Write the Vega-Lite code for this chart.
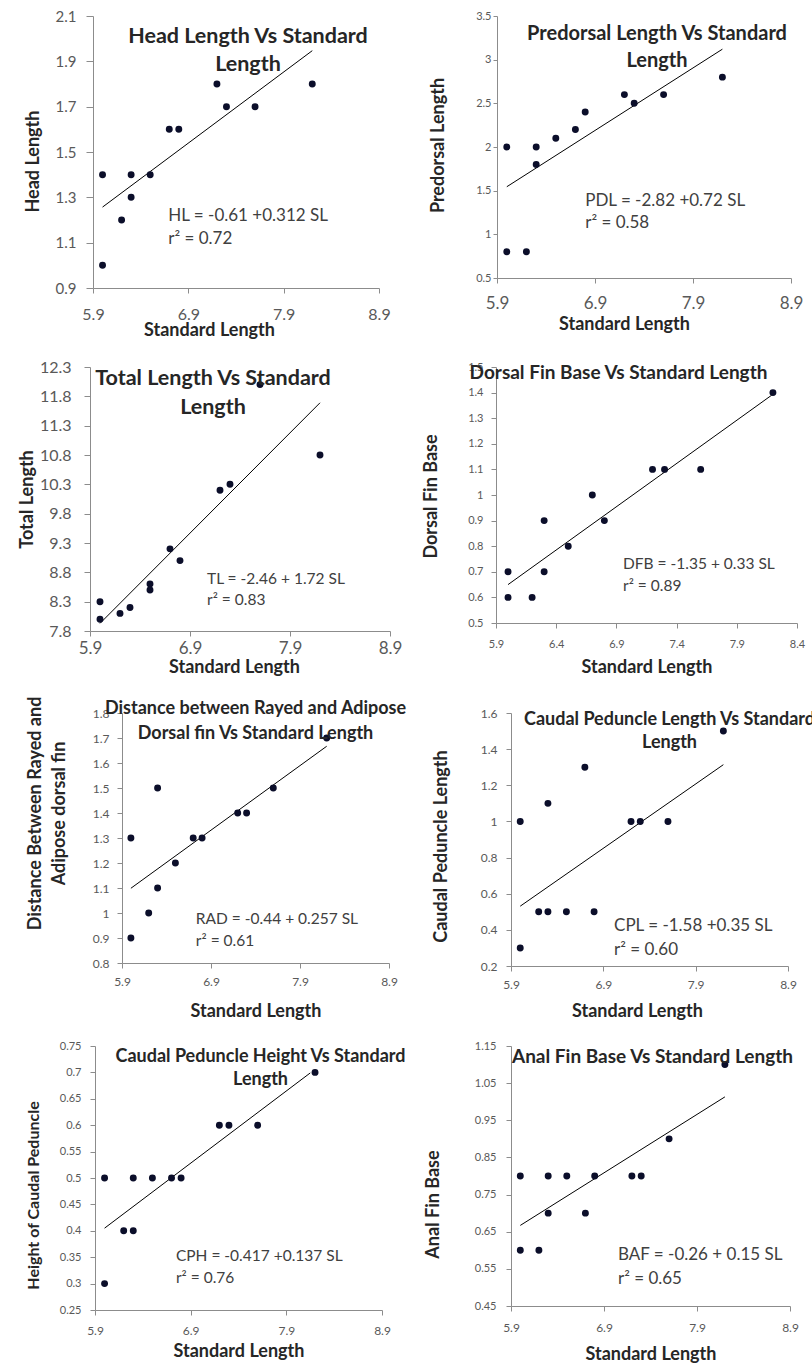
{
  "$schema": "https://vega.github.io/schema/vega-lite/v6.json",
  "padding": {"left": 9, "top": 9, "right": 0, "bottom": 0},
  "autosize": {"type": "pad"},
  "background": "white",
  "spacing": 20,
  "columns": 1,
  "datasets": {
    "hl": [{"SL":6.0,"HL":1.4},{"SL":6.0,"HL":1.0},{"SL":6.2,"HL":1.2},{"SL":6.3,"HL":1.4},{"SL":6.3,"HL":1.3},{"SL":6.5,"HL":1.4},{"SL":6.7,"HL":1.6},{"SL":6.8,"HL":1.6},{"SL":7.2,"HL":1.8},{"SL":7.3,"HL":1.7},{"SL":7.6,"HL":1.7},{"SL":8.2,"HL":1.8}],
    "hl_fit": [{"SL":6.0,"HL":1.257},{"SL":8.2,"HL":1.947}],
    "pdl": [{"SL":6.0,"PDL":2.0},{"SL":6.0,"PDL":0.8},{"SL":6.2,"PDL":0.8},{"SL":6.3,"PDL":2.0},{"SL":6.3,"PDL":1.8},{"SL":6.5,"PDL":2.1},{"SL":6.7,"PDL":2.2},{"SL":6.8,"PDL":2.4},{"SL":7.2,"PDL":2.6},{"SL":7.3,"PDL":2.5},{"SL":7.6,"PDL":2.6},{"SL":8.2,"PDL":2.8}],
    "pdl_fit": [{"SL":6.0,"PDL":1.545},{"SL":8.2,"PDL":3.12}],
    "tl": [{"SL":6.0,"TL":8.3},{"SL":6.0,"TL":8.0},{"SL":6.2,"TL":8.1},{"SL":6.3,"TL":8.2},{"SL":6.5,"TL":8.6},{"SL":6.5,"TL":8.5},{"SL":6.7,"TL":9.2},{"SL":6.8,"TL":9.0},{"SL":7.2,"TL":10.2},{"SL":7.3,"TL":10.3},{"SL":7.6,"TL":12.0},{"SL":8.2,"TL":10.8}],
    "tl_fit": [{"SL":6.0,"TL":7.93},{"SL":8.2,"TL":11.69}],
    "dfb": [{"SL":6.0,"DFB":0.7},{"SL":6.0,"DFB":0.6},{"SL":6.2,"DFB":0.6},{"SL":6.3,"DFB":0.9},{"SL":6.3,"DFB":0.7},{"SL":6.5,"DFB":0.8},{"SL":6.7,"DFB":1.0},{"SL":6.8,"DFB":0.9},{"SL":7.2,"DFB":1.1},{"SL":7.3,"DFB":1.1},{"SL":7.6,"DFB":1.1},{"SL":8.2,"DFB":1.4}],
    "dfb_fit": [{"SL":6.0,"DFB":0.65},{"SL":8.19,"DFB":1.39}],
    "rad": [{"SL":6.0,"RAD":1.3},{"SL":6.0,"RAD":0.9},{"SL":6.2,"RAD":1.0},{"SL":6.3,"RAD":1.5},{"SL":6.3,"RAD":1.1},{"SL":6.5,"RAD":1.2},{"SL":6.7,"RAD":1.3},{"SL":6.8,"RAD":1.3},{"SL":7.2,"RAD":1.4},{"SL":7.3,"RAD":1.4},{"SL":7.6,"RAD":1.5},{"SL":8.2,"RAD":1.7}],
    "rad_fit": [{"SL":6.0,"RAD":1.099},{"SL":8.2,"RAD":1.667}],
    "cpl": [{"SL":6.0,"CPL":1.0},{"SL":6.0,"CPL":0.3},{"SL":6.2,"CPL":0.5},{"SL":6.3,"CPL":0.5},{"SL":6.3,"CPL":1.1},{"SL":6.5,"CPL":0.5},{"SL":6.7,"CPL":1.3},{"SL":6.8,"CPL":0.5},{"SL":7.2,"CPL":1.0},{"SL":7.3,"CPL":1.0},{"SL":7.6,"CPL":1.0},{"SL":8.2,"CPL":1.5}],
    "cpl_fit": [{"SL":6.0,"CPL":0.531},{"SL":8.2,"CPL":1.314}],
    "cph": [{"SL":6.0,"CPH":0.5},{"SL":6.0,"CPH":0.3},{"SL":6.2,"CPH":0.4},{"SL":6.3,"CPH":0.4},{"SL":6.3,"CPH":0.5},{"SL":6.5,"CPH":0.5},{"SL":6.7,"CPH":0.5},{"SL":6.8,"CPH":0.5},{"SL":7.2,"CPH":0.6},{"SL":7.3,"CPH":0.6},{"SL":7.6,"CPH":0.6},{"SL":8.2,"CPH":0.7}],
    "cph_fit": [{"SL":6.0,"CPH":0.405},{"SL":8.15,"CPH":0.699}],
    "baf": [{"SL":6.0,"BAF":0.8},{"SL":6.0,"BAF":0.6},{"SL":6.2,"BAF":0.6},{"SL":6.3,"BAF":0.8},{"SL":6.3,"BAF":0.7},{"SL":6.5,"BAF":0.8},{"SL":6.7,"BAF":0.7},{"SL":6.8,"BAF":0.8},{"SL":7.2,"BAF":0.8},{"SL":7.3,"BAF":0.8},{"SL":7.6,"BAF":0.9},{"SL":8.2,"BAF":1.1}],
    "baf_fit": [{"SL":6.0,"BAF":0.667},{"SL":8.2,"BAF":1.013}]
  },
  "concat": [
    {
      "bounds": "flush",
      "spacing": 83,
      "hconcat": [
        {"width": 1, "height": 1, "data": {"values": []}, "mark": {"type": "point", "opacity": 0}},
        {
          "bounds": "flush",
          "spacing": 118,
          "hconcat": [
            {
              "width": 286, "height": 272,
              "title": {"text": ["Head Length Vs Standard", "Length"], "fontSize": 21.5, "lineHeight": 28, "offset": -66, "dx": 12},
              "layer": [
                {"data": {"name": "hl_fit"}, "mark": "line",
                 "encoding": {
                   "x": {"field": "SL", "type": "quantitative", "scale": {"domain": [5.9, 8.9], "zero": false, "nice": false},
                         "axis": {"title": "Standard Length", "values": [5.9, 6.9, 7.9, 8.9], "tickCount": 50, "format": ".1f", "labelOverlap": false, "labelFontSize": 16, "labelPadding": 13, "titleX": 116, "titleY": 33}},
                   "y": {"field": "HL", "type": "quantitative", "scale": {"domain": [0.9, 2.1], "zero": false, "nice": false},
                         "axis": {"title": "Head Length", "values": [0.9, 1.1, 1.3, 1.5, 1.7, 1.9, 2.1], "tickCount": 50, "format": ".1f", "labelOverlap": false, "labelFontSize": 15, "tickSize": 7, "labelPadding": 10, "titleX": -51, "titleY": 145}}
                 }},
                {"data": {"name": "hl"}, "mark": "point",
                 "encoding": {"x": {"field": "SL", "type": "quantitative"}, "y": {"field": "HL", "type": "quantitative"}}},
                {"data": {"values": [{}]}, "mark": {"type": "text", "text": ["HL = -0.61 +0.312 SL", "r² = 0.72"], "fontSize": 17, "lineHeight": 23},
                 "encoding": {"x": {"datum": 6.69, "type": "quantitative"}, "y": {"datum": 1.216, "type": "quantitative"}}}
              ]
            },
            {
              "width": 294, "height": 262,
              "title": {"text": ["Predorsal Length Vs Standard", "Length"], "fontSize": 20, "lineHeight": 27, "offset": -61, "dx": 13},
              "layer": [
                {"data": {"name": "pdl_fit"}, "mark": "line",
                 "encoding": {
                   "x": {"field": "SL", "type": "quantitative", "scale": {"domain": [5.9, 8.9], "zero": false, "nice": false},
                         "axis": {"title": "Standard Length", "values": [5.9, 6.9, 7.9, 8.9], "tickCount": 50, "format": ".1f", "labelOverlap": false, "labelFontSize": 17, "labelPadding": 12.5, "titleX": 127, "titleY": 37}},
                   "y": {"field": "PDL", "type": "quantitative", "scale": {"domain": [0.5, 3.5], "zero": false, "nice": false},
                         "axis": {"title": "Predorsal Length", "values": [0.5, 1, 1.5, 2, 2.5, 3, 3.5], "tickCount": 50, "format": ".1~f", "labelOverlap": false, "labelFontSize": 11, "tickSize": 4, "labelPadding": 2, "titleX": -50, "titleY": 129}}
                 }},
                {"data": {"name": "pdl"}, "mark": "point",
                 "encoding": {"x": {"field": "SL", "type": "quantitative"}, "y": {"field": "PDL", "type": "quantitative"}}},
                {"data": {"values": [{}]}, "mark": {"type": "text", "text": ["PDL = -2.82 +0.72 SL", "r² = 0.58"], "fontSize": 17, "lineHeight": 22},
                 "encoding": {"x": {"datum": 6.8, "type": "quantitative"}, "y": {"datum": 1.38, "type": "quantitative"}}}
              ]
            }
          ]
        }
      ]
    },
    {
      "bounds": "flush",
      "spacing": 80,
      "hconcat": [
        {"width": 1, "height": 1, "data": {"values": []}, "mark": {"type": "point", "opacity": 0}},
        {
          "bounds": "flush",
          "spacing": 106,
          "hconcat": [
            {
              "width": 300, "height": 264,
              "title": {"text": ["Total Length Vs Standard", "Length"], "fontSize": 21.5, "lineHeight": 29, "offset": -59, "dx": -27},
              "layer": [
                {"data": {"name": "tl_fit"}, "mark": "line",
                 "encoding": {
                   "x": {"field": "SL", "type": "quantitative", "scale": {"domain": [5.9, 8.9], "zero": false, "nice": false},
                         "axis": {"title": "Standard Length", "values": [5.9, 6.9, 7.9, 8.9], "tickCount": 50, "format": ".1f", "labelOverlap": false, "labelFontSize": 17, "labelPadding": 4.5, "titleX": 144, "titleY": 27}},
                   "y": {"field": "TL", "type": "quantitative", "scale": {"domain": [7.8, 12.3], "zero": false, "nice": false},
                         "axis": {"title": "Total Length", "values": [7.8, 8.3, 8.8, 9.3, 9.8, 10.3, 10.8, 11.3, 11.8, 12.3], "tickCount": 50, "format": ".1f", "labelOverlap": false, "labelFontSize": 16, "tickSize": 6, "labelPadding": 13, "titleX": -54, "titleY": 132}}
                 }},
                {"data": {"name": "tl"}, "mark": "point",
                 "encoding": {"x": {"field": "SL", "type": "quantitative"}, "y": {"field": "TL", "type": "quantitative"}}},
                {"data": {"values": [{}]}, "mark": {"type": "text", "text": ["TL = -2.46 + 1.72 SL", "r² = 0.83"], "fontSize": 15.5, "lineHeight": 21},
                 "encoding": {"x": {"datum": 7.07, "type": "quantitative"}, "y": {"datum": 8.68, "type": "quantitative"}}}
              ]
            },
            {
              "width": 301, "height": 256,
              "title": {"text": "Dorsal Fin Base Vs Standard Length", "fontSize": 19, "offset": -22, "dx": -28},
              "layer": [
                {"data": {"name": "dfb_fit"}, "mark": "line",
                 "encoding": {
                   "x": {"field": "SL", "type": "quantitative", "scale": {"domain": [5.9, 8.4], "zero": false, "nice": false},
                         "axis": {"title": "Standard Length", "values": [5.9, 6.4, 6.9, 7.4, 7.9, 8.4], "tickCount": 50, "format": ".1f", "labelOverlap": false, "labelFontSize": 11, "labelPadding": 10.5, "titleY": 35}},
                   "y": {"field": "DFB", "type": "quantitative", "scale": {"domain": [0.5, 1.5], "zero": false, "nice": false},
                         "axis": {"title": "Dorsal Fin Base", "values": [0.5, 0.6, 0.7, 0.8, 0.9, 1, 1.1, 1.2, 1.3, 1.4, 1.5], "tickCount": 50, "format": ".1~f", "labelOverlap": false, "labelFontSize": 11, "tickSize": 5, "labelPadding": 8, "titleX": -56, "titleY": 129}}
                 }},
                {"data": {"name": "dfb"}, "mark": "point",
                 "encoding": {"x": {"field": "SL", "type": "quantitative"}, "y": {"field": "DFB", "type": "quantitative"}}},
                {"data": {"values": [{}]}, "mark": {"type": "text", "text": ["DFB = -1.35 + 0.33 SL", "r² = 0.89"], "fontSize": 15.5, "lineHeight": 22},
                 "encoding": {"x": {"datum": 6.955, "type": "quantitative"}, "y": {"datum": 0.732, "type": "quantitative"}}}
              ]
            }
          ]
        }
      ]
    },
    {
      "bounds": "flush",
      "spacing": 112,
      "hconcat": [
        {"width": 1, "height": 1, "data": {"values": []}, "mark": {"type": "point", "opacity": 0}},
        {
          "bounds": "flush",
          "spacing": 122,
          "hconcat": [
            {
              "width": 267, "height": 250,
              "title": {"text": ["Distance between Rayed and Adipose", "Dorsal fin Vs Standard Length"], "fontSize": 18, "lineHeight": 25, "offset": -47},
              "layer": [
                {"data": {"name": "rad_fit"}, "mark": "line",
                 "encoding": {
                   "x": {"field": "SL", "type": "quantitative", "scale": {"domain": [5.9, 8.9], "zero": false, "nice": false},
                         "axis": {"title": "Standard Length", "values": [5.9, 6.9, 7.9, 8.9], "tickCount": 50, "format": ".1f", "labelOverlap": false, "labelFontSize": 12, "labelPadding": 8, "titleY": 39}},
                   "y": {"field": "RAD", "type": "quantitative", "scale": {"domain": [0.8, 1.8], "zero": false, "nice": false},
                         "axis": {"title": ["Distance Between Rayed and", "Adipose dorsal fin"], "titleLineHeight": 24, "values": [0.8, 0.9, 1, 1.1, 1.2, 1.3, 1.4, 1.5, 1.6, 1.7, 1.8], "tickCount": 50, "format": ".1~f", "labelOverlap": false, "labelFontSize": 12, "tickSize": 5, "labelPadding": 8, "titleX": -78, "titleY": 100}}
                 }},
                {"data": {"name": "rad"}, "mark": "point",
                 "encoding": {"x": {"field": "SL", "type": "quantitative"}, "y": {"field": "RAD", "type": "quantitative"}}},
                {"data": {"values": [{}]}, "mark": {"type": "text", "text": ["RAD = -0.44 + 0.257 SL", "r² = 0.61"], "fontSize": 15.5, "lineHeight": 22},
                 "encoding": {"x": {"datum": 6.73, "type": "quantitative"}, "y": {"datum": 0.975, "type": "quantitative"}}}
              ]
            },
            {
              "width": 277, "height": 253,
              "title": {"text": ["Caudal Peduncle Length Vs Standard", "Length"], "fontSize": 18, "lineHeight": 23, "offset": -45, "dx": 20},
              "layer": [
                {"data": {"name": "cpl_fit"}, "mark": "line",
                 "encoding": {
                   "x": {"field": "SL", "type": "quantitative", "scale": {"domain": [5.9, 8.9], "zero": false, "nice": false},
                         "axis": {"title": "Standard Length", "values": [5.9, 6.9, 7.9, 8.9], "tickCount": 50, "format": ".1f", "labelOverlap": false, "labelFontSize": 12, "labelPadding": 8, "titleX": 126, "titleY": 36}},
                   "y": {"field": "CPL", "type": "quantitative", "scale": {"domain": [0.2, 1.6], "zero": false, "nice": false},
                         "axis": {"title": "Caudal Peduncle Length", "values": [0.2, 0.4, 0.6, 0.8, 1, 1.2, 1.4, 1.6], "tickCount": 50, "format": ".1~f", "labelOverlap": false, "labelFontSize": 12, "tickSize": 5, "labelPadding": 9, "titleX": -61, "titleY": 133}}
                 }},
                {"data": {"name": "cpl"}, "mark": "point",
                 "encoding": {"x": {"field": "SL", "type": "quantitative"}, "y": {"field": "CPL", "type": "quantitative"}}},
                {"data": {"values": [{}]}, "mark": {"type": "text", "text": ["CPL = -1.58 +0.35 SL", "r² = 0.60"], "fontSize": 17, "lineHeight": 24},
                 "encoding": {"x": {"datum": 7.016, "type": "quantitative"}, "y": {"datum": 0.42, "type": "quantitative"}}}
              ]
            }
          ]
        }
      ]
    },
    {
      "bounds": "flush",
      "spacing": 85,
      "hconcat": [
        {"width": 1, "height": 1, "data": {"values": []}, "mark": {"type": "point", "opacity": 0}},
        {
          "bounds": "flush",
          "spacing": 129,
          "hconcat": [
            {
              "width": 287, "height": 264,
              "title": {"text": ["Caudal Peduncle Height Vs Standard", "Length"], "fontSize": 18, "lineHeight": 23, "offset": -49, "dx": 22},
              "layer": [
                {"data": {"name": "cph_fit"}, "mark": "line",
                 "encoding": {
                   "x": {"field": "SL", "type": "quantitative", "scale": {"domain": [5.9, 8.9], "zero": false, "nice": false},
                         "axis": {"title": "Standard Length", "values": [5.9, 6.9, 7.9, 8.9], "tickCount": 50, "format": ".1f", "labelOverlap": false, "labelFontSize": 12, "labelPadding": 10, "titleY": 32}},
                   "y": {"field": "CPH", "type": "quantitative", "scale": {"domain": [0.25, 0.75], "zero": false, "nice": false},
                         "axis": {"title": "Height of Caudal Peduncle", "titleFontSize": 16, "values": [0.25, 0.3, 0.35, 0.4, 0.45, 0.5, 0.55, 0.6, 0.65, 0.7, 0.75], "tickCount": 50, "format": ".2~f", "labelOverlap": false, "labelFontSize": 11, "tickSize": 5, "labelPadding": 9, "titleX": -54, "titleY": 149}}
                 }},
                {"data": {"name": "cph"}, "mark": "point",
                 "encoding": {"x": {"field": "SL", "type": "quantitative"}, "y": {"field": "CPH", "type": "quantitative"}}},
                {"data": {"values": [{}]}, "mark": {"type": "text", "text": ["CPH = -0.417 +0.137 SL", "r² = 0.76"], "fontSize": 15.5, "lineHeight": 22},
                 "encoding": {"x": {"datum": 6.746, "type": "quantitative"}, "y": {"datum": 0.352, "type": "quantitative"}}}
              ]
            },
            {
              "width": 279, "height": 260,
              "title": {"text": "Anal Fin Base Vs Standard Length", "fontSize": 19, "offset": -27, "dx": 2},
              "layer": [
                {"data": {"name": "baf_fit"}, "mark": "line",
                 "encoding": {
                   "x": {"field": "SL", "type": "quantitative", "scale": {"domain": [5.9, 8.9], "zero": false, "nice": false},
                         "axis": {"title": "Standard Length", "values": [5.9, 6.9, 7.9, 8.9], "tickCount": 50, "format": ".1f", "labelOverlap": false, "labelFontSize": 12, "labelPadding": 11, "titleY": 39}},
                   "y": {"field": "BAF", "type": "quantitative", "scale": {"domain": [0.45, 1.15], "zero": false, "nice": false},
                         "axis": {"title": "Anal Fin Base", "values": [0.45, 0.55, 0.65, 0.75, 0.85, 0.95, 1.05, 1.15], "tickCount": 50, "format": ".2~f", "labelOverlap": false, "labelFontSize": 11, "tickSize": 5, "labelPadding": 10, "titleX": -69, "titleY": 158}}
                 }},
                {"data": {"name": "baf"}, "mark": "point",
                 "encoding": {"x": {"field": "SL", "type": "quantitative"}, "y": {"field": "BAF", "type": "quantitative"}}},
                {"data": {"values": [{}]}, "mark": {"type": "text", "text": ["BAF = -0.26 + 0.15 SL", "r² = 0.65"], "fontSize": 17, "lineHeight": 24},
                 "encoding": {"x": {"datum": 7.05, "type": "quantitative"}, "y": {"datum": 0.586, "type": "quantitative"}}}
              ]
            }
          ]
        }
      ]
    }
  ],
  "config": {
    "font": "Lato",
    "view": {"stroke": null},
    "axis": {
      "grid": false, "domainColor": "#8c8c8c", "domainWidth": 1, "tickColor": "#8c8c8c", "tickSize": 5,
      "labelColor": "#595959", "labelFont": "Lato", "labelFlush": false, "labelOverlap": false,
      "titleColor": "#262626", "titleFont": "Lato", "titleFontWeight": "bold", "titleFontSize": 18
    },
    "title": {"font": "Lato", "fontWeight": "bold", "color": "#262626", "anchor": "middle", "frame": "group"},
    "point": {"filled": true, "color": "#0b0e2a", "size": 48, "opacity": 1},
    "line": {"color": "#000000", "strokeWidth": 1},
    "text": {"font": "Lato", "color": "#404040", "align": "left", "baseline": "middle"}
  }
}
